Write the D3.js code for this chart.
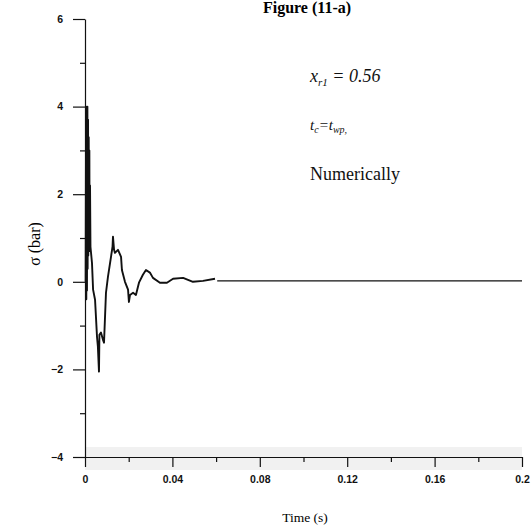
<!DOCTYPE html>
<html>
<head>
<meta charset="utf-8">
<script src="https://cdn.jsdelivr.net/npm/d3@7"></script>
<style>
  html, body { margin: 0; padding: 0; background: #fff; }
  svg { display: block; }
</style>
</head>
<body>
<svg id="chart" width="532" height="530"></svg>
<script>
"use strict";

// values
var timeVals = [0.0000, 0.0003, 0.0005, 0.0006, 0.0008, 0.0009, 0.0011, 0.0012, 0.0014,
    0.0015, 0.0017, 0.0018, 0.0020, 0.0021, 0.0023, 0.0025, 0.0032, 0.0037, 0.0046,
    0.0055, 0.0059, 0.0064, 0.0066, 0.0073, 0.0082, 0.0087, 0.0096, 0.0105, 0.0119,
    0.0126, 0.0128, 0.0133, 0.0137, 0.0151, 0.0165, 0.0169, 0.0183, 0.0197, 0.0201,
    0.0206, 0.0220, 0.0233, 0.0247, 0.0265, 0.0279, 0.0297, 0.0311, 0.0343, 0.0375,
    0.0403, 0.0449, 0.0494, 0.0540, 0.0595];
var sigmaVals = [0.0, 0.0, 4.0, -0.4, 3.9, -0.2, 4.0, 0.3, 3.7,
    0.6, 3.3, 0.9, 3.0, 0.7, 2.2, 0.8, 0.43, -0.18, -0.41,
    -1.26, -1.48, -2.05, -1.21, -1.16, -1.32, -1.39, -0.25, 0.11, 0.57,
    0.80, 1.03, 0.73, 0.66, 0.73, 0.57, 0.27, 0.0, -0.18, -0.46,
    -0.30, -0.25, -0.30, -0.02, 0.16, 0.27, 0.21, 0.09, -0.02, -0.02,
    0.07, 0.09, 0.0, 0.02, 0.07];
// flat tail after the small gap
var tailTime = [0.0605, 0.2];
var tailSigma = [0.02, 0.02];

var xMajor = [0, 0.04, 0.08, 0.12, 0.16, 0.2];
var xMinor = [0.02, 0.06, 0.1, 0.14, 0.18];
var xLabels = ["0", "0.04", "0.08", "0.12", "0.16", "0.2"];
var yMajor = [-4, -2, 0, 2, 4, 6];
var yMinor = [-3, -1, 1, 3, 5];

var svg = d3.select("#chart");

var x = d3.scaleLinear().domain([0, 0.2]).range([85, 522]);
var y = d3.scaleLinear().domain([-4, 6]).range([457, 19]);

// faint grey scan band around the time axis
svg.append("rect")
    .attr("x", x(0)).attr("y", y(-4) - 10)
    .attr("width", x(0.2) - x(0)).attr("height", 23)
    .attr("fill", "#f1f1f1");

// title (sits right at the top edge in the scan)
svg.append("text")
    .attr("x", 307).attr("y", 13)
    .attr("text-anchor", "middle")
    .attr("font-family", "Liberation Serif, serif")
    .attr("font-size", 16)
    .attr("font-weight", "bold")
    .text("Figure (11-a)");

// axes
var xAxis = svg.append("g")
    .attr("transform", "translate(0," + y(-4) + ")")
    .call(d3.axisBottom(x).tickValues(xMajor).tickSize(10).tickSizeOuter(0)
        .tickFormat(function (d, i) { return xLabels[i]; }));
svg.append("g")
    .attr("transform", "translate(0," + y(-4) + ")")
    .call(d3.axisBottom(x).tickValues(xMinor).tickSize(5).tickFormat(""))
    .select(".domain").remove();

var yAxis = svg.append("g")
    .attr("transform", "translate(" + x(0) + ",0)")
    .call(d3.axisLeft(y).tickValues(yMajor).tickSize(12).tickSizeOuter(0));
svg.append("g")
    .attr("transform", "translate(" + x(0) + ",0)")
    .call(d3.axisLeft(y).tickValues(yMinor).tickSize(5).tickFormat(""))
    .select(".domain").remove();

svg.selectAll(".domain, .tick line")
    .attr("stroke", "#111")
    .attr("stroke-width", 1.2);

xAxis.selectAll(".tick text")
    .attr("dy", "1.3em")
    .attr("y", 12);
svg.selectAll(".tick text")
    .attr("font-family", "Liberation Sans, Arial, sans-serif")
    .attr("font-weight", "bold")
    .attr("font-size", 10.5)
    .attr("fill", "#111");
yAxis.selectAll(".tick text").attr("x", -22);

// axis titles
svg.append("text")
    .attr("x", 305).attr("y", 522)
    .attr("text-anchor", "middle")
    .attr("font-family", "Liberation Serif, serif")
    .attr("font-size", 13.5)
    .text("Time (s)");

svg.append("text")
    .attr("transform", "translate(40,244) rotate(-90)")
    .attr("text-anchor", "middle")
    .attr("font-family", "Liberation Serif, serif")
    .attr("font-size", 16)
    .text("\u03c3  (bar)");

// annotations
var note = svg.append("g")
    .attr("font-family", "Liberation Serif, serif")
    .attr("fill", "#111");

var t1 = note.append("text").attr("x", 310).attr("y", 82)
    .attr("font-style", "italic").attr("font-size", 18);
t1.append("tspan").text("x");
t1.append("tspan").attr("font-size", 11).attr("dy", 4).text("r1");
t1.append("tspan").attr("dy", -4).text(" = 0.56");

var t2 = note.append("text").attr("x", 310).attr("y", 130)
    .attr("font-style", "italic").attr("font-size", 15);
t2.append("tspan").text("t");
t2.append("tspan").attr("font-size", 10).attr("dy", 3).text("c");
t2.append("tspan").attr("dy", -3).text("=t");
t2.append("tspan").attr("font-size", 10).attr("dy", 3).text("wp,");

note.append("text").attr("x", 310).attr("y", 180)
    .attr("font-size", 18)
    .text("Numerically");

// response curve
var line = d3.line()
    .x(function (d) { return x(d[0]); })
    .y(function (d) { return y(d[1]); });

var mainPts = timeVals.map(function (t, i) { return [t, sigmaVals[i]]; });
var tailPts = tailTime.map(function (t, i) { return [t, tailSigma[i]]; });

svg.append("path")
    .attr("d", line(mainPts))
    .attr("fill", "none")
    .attr("stroke", "#111")
    .attr("stroke-width", 1.9)
    .attr("stroke-linejoin", "round");

svg.append("path")
    .attr("d", line(tailPts))
    .attr("fill", "none")
    .attr("stroke", "#111")
    .attr("stroke-width", 1.3);
</script>
</body>
</html>
